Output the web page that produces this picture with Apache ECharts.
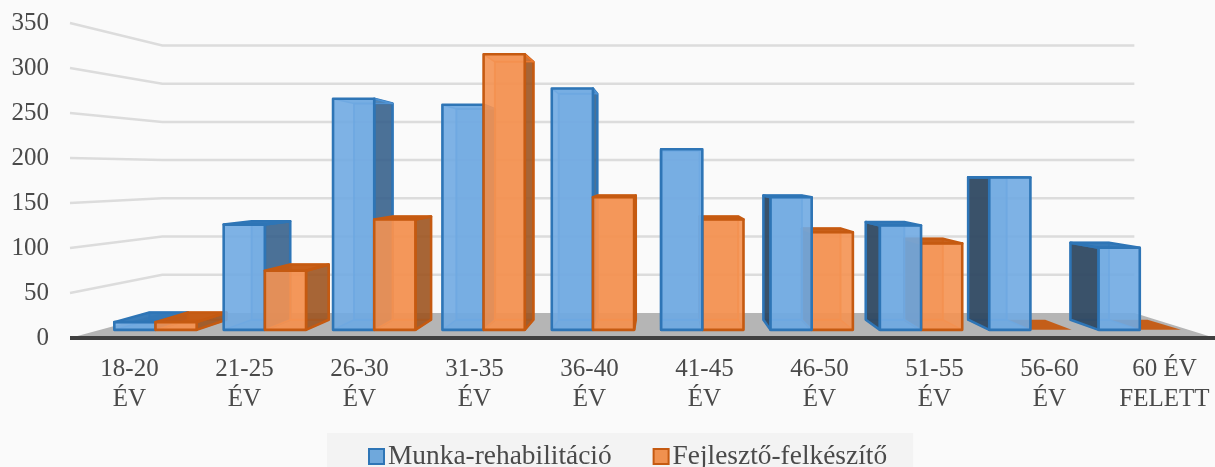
<!DOCTYPE html>
<html><head><meta charset="utf-8">
<style>html,body{margin:0;padding:0;background:#fafafa;overflow:hidden}#c{width:1215px;height:467px}</style>
<script src="https://cdn.jsdelivr.net/npm/echarts@6/dist/echarts.min.js"></script>
</head><body><div id="c"></div>
<script>
const categories = ['18-20\nÉV','21-25\nÉV','26-30\nÉV','31-35\nÉV','36-40\nÉV','41-45\nÉV','46-50\nÉV','51-55\nÉV','56-60\nÉV','60 ÉV\nFELETT'];
const munka = [9,123,270,263,282,211,155,122,178,96];
const fejleszto = [9,69,129,322,155,129,114,101,0,0];
const tickValues = [0,50,100,150,200,250,300,350];

const VY = 172, WALL_VX = 681, WALL_K = 0.849;
const BAR_VX = 660, K_FRONT = 0.951, K_BACK = 0.89, HALF = 0.3765;
const serif = '"Liberation Serif", serif';

const BLUE = {front:'rgba(112,170,226,0.9)', back:'rgba(91,155,213,0.4)', line:'#2e75b6', inner:'rgba(85,150,215,0.85)',
  left:'rgba(44,68,92,0.9)', right:'rgba(48,88,130,0.8)', top:'rgba(46,117,182,0.95)'};
const ORANGE = {front:'rgba(244,146,82,0.9)', back:'rgba(237,125,49,0.45)', line:'#c55a11', inner:'rgba(240,125,50,0.85)',
  left:'rgba(140,70,25,0.9)', right:'rgba(150,80,30,0.82)', top:'rgba(197,90,17,0.95)'};

function barRenderer(pal, fromBand, toBand, isBlue){
  return function(params, api){
    const i = api.value(0), v = api.value(1);
    const c = api.coord([i, v]), b = api.coord([i, 0]);
    const band = api.size([1, 0])[0];
    const x0 = c[0] + fromBand * band, x1 = c[0] + toBand * band;
    const P = (x, y, k) => [BAR_VX + k * (x - BAR_VX), VY + k * (y - VY)];
    const fl = P(x0,b[1],K_FRONT), fr = P(x1,b[1],K_FRONT), ftl = P(x0,c[1],K_FRONT), ftr = P(x1,c[1],K_FRONT);
    const bl = P(x0,b[1],K_BACK), br = P(x1,b[1],K_BACK), btl = P(x0,c[1],K_BACK), btr = P(x1,c[1],K_BACK);
    const right = x1 < BAR_VX, left = x0 > BAR_VX;
    const leftOfVp = c[0] < BAR_VX;
    const base = (leftOfVp ? i * 40 : (9 - i) * 40 + 400) + ((isBlue === leftOfVp) ? 0 : 20);
    const faces = [];
    const face = (pts, fill, stroke, w, n) => faces.push({type:'polygon', z2: base + n, shape:{points:pts},
      style:{fill, stroke, lineWidth:w, lineJoin:'round'}});
    const seenFromAbove = btl[1] < ftl[1];
    if (v > 0) {
      face([bl,br,btr,btl], pal.back, pal.inner, 2, 1);
    }
    face([fl,fr,br,bl], v > 0 ? pal.back : pal.top, v > 0 ? pal.inner : 'transparent', v > 0 ? 1.5 : 0, 2);
    if (v > 0) {
      if (left) face([fl,bl,btl,ftl], pal.left, pal.line, 2.5, 3);
      if (right) face([fr,br,btr,ftr], pal.right, pal.line, 2.5, 3);
      if (seenFromAbove) face([ftl,ftr,btr,btl], pal.top, pal.line, 2.5, 4);
      else face([ftl,ftr,btr,btl], pal.back, pal.inner, 1.5, 4);
      face([fl,fr,ftr,ftl], pal.front, pal.line, 2.6, 5);
    }
    return {type:'group', children: faces};
  };
}

function wallRenderer(params, api){
  const v = api.value(0);
  const y = api.coord([0, v])[1];
  const xa = params.coordSys.x - 2, xb = api.getWidth();
  const ax = WALL_VX + WALL_K * (xa - WALL_VX), bx = WALL_VX + WALL_K * (xb - WALL_VX);
  const by = VY + WALL_K * (y - VY);
  if (v === 0) {
    return {type:'polygon', shape:{points:[[xa,y],[ax,by],[bx,by],[xb,y]]}, style:{fill:'#b5b5b5', stroke:'none'}};
  }
  return {type:'polyline', shape:{points:[[xa,y],[ax,by],[bx,by]]}, style:{fill:'none', stroke:'#dcdcdc', lineWidth:2.5}};
}

const chart = echarts.init(document.getElementById('c'), null, {renderer:'canvas', width:1215, height:467});
chart.setOption({
  animation:false,
  backgroundColor:'#fafafa',
  grid:{left:72, top:23, width:1150, height:315, outerBoundsMode:'none'},
  xAxis:{type:'category', data:categories, boundaryGap:true, z:5,
    axisLine:{show:true, lineStyle:{color:'#404040', width:4, cap:'square'}},
    axisTick:{show:false},
    axisLabel:{interval:0, margin:17, color:'#4a4a4a', fontFamily:serif, fontSize:25, lineHeight:29.5, hideOverlap:false}},
  yAxis:{type:'value', min:0, max:350, interval:50,
    axisLine:{show:false}, axisTick:{show:false}, splitLine:{show:false},
    axisLabel:{margin:23, color:'#4a4a4a', fontFamily:serif, fontSize:25, padding:[3,0,0,0]}},
  legend:{left:327, top:433, backgroundColor:'#f3f3f3', padding:[10,26,0,41], itemGap:41, itemWidth:15, itemHeight:15,
    selectedMode:false, icon:'rect',
    textStyle:{color:'#4a4a4a', fontFamily:serif, fontSize:27.4, padding:[0,0,0,-1]},
    data:[
      {name:'Munka-rehabilitáció', itemStyle:{color:'#6fa8dc', borderColor:'#2e75b6', borderWidth:2}},
      {name:'Fejlesztő-felkészítő', itemStyle:{color:'#f0914f', borderColor:'#c55a11', borderWidth:2}}
    ]},
  series:[
    {type:'custom', name:'walls', z:1, silent:true, coordinateSystem:'cartesian2d', encode:{y:0},
      data:tickValues.map(t => [t]).reverse(), renderItem:wallRenderer},
    {type:'custom', name:'Munka-rehabilitáció', z:2, coordinateSystem:'cartesian2d', encode:{x:0,y:1},
      data:munka.map((v,i)=>[i,v]), renderItem:barRenderer(BLUE,-HALF,0,true)},
    {type:'custom', name:'Fejlesztő-felkészítő', z:2, coordinateSystem:'cartesian2d', encode:{x:0,y:1},
      data:fejleszto.map((v,i)=>[i,v]), renderItem:barRenderer(ORANGE,0,HALF,false)}
  ]
});
</script></body></html>
